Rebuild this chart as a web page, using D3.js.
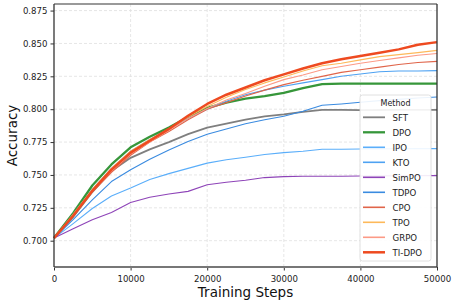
<!DOCTYPE html>
<html lang="en">
<head>
<meta charset="utf-8">
<title>Accuracy vs Training Steps</title>
<script src="https://cdn.jsdelivr.net/npm/d3@7/dist/d3.min.js"></script>
<style>
  body { margin: 0; background: #fff; }
  text { font-family: "DejaVu Sans", sans-serif; }
</style>
</head>
<body>
<div id="chart"></div>
<script>
const w = 457, h = 302;
const margin = {top: 4, right: 20, bottom: 35, left: 54};

// data
const steps = [0, 2500, 5000, 7500, 10000, 12500, 15000, 17500, 20000, 22500, 25000,
  27500, 30000, 32500, 35000, 37500, 40000, 42500, 45000, 47500, 50000];
const methods = ["SFT", "DPO", "IPO", "KTO", "SimPO", "TDPO", "CPO", "TPO", "GRPO", "TI-DPO"];
const sft   = [0.702, 0.718, 0.737, 0.753, 0.763, 0.7695, 0.775, 0.781, 0.786, 0.789, 0.792,
  0.7945, 0.796, 0.798, 0.7995, 0.7995, 0.7993, 0.7994, 0.7995, 0.7995, 0.7995];
const dpo   = [0.702, 0.721, 0.742, 0.758, 0.771, 0.779, 0.786, 0.794, 0.801, 0.805, 0.808,
  0.810, 0.8125, 0.816, 0.819, 0.8195, 0.8195, 0.8195, 0.8195, 0.8195, 0.8195];
const ipo   = [0.702, 0.713, 0.7245, 0.734, 0.740, 0.7465, 0.751, 0.755, 0.759, 0.7615, 0.7635,
  0.7655, 0.767, 0.768, 0.7695, 0.7695, 0.7697, 0.7698, 0.7699, 0.770, 0.770];
const kto   = [0.702, 0.720, 0.739, 0.755, 0.768, 0.777, 0.785, 0.793, 0.800, 0.806, 0.811,
  0.8145, 0.8175, 0.820, 0.8225, 0.825, 0.8268, 0.8285, 0.829, 0.829, 0.8293];
const simpo = [0.702, 0.709, 0.716, 0.7215, 0.729, 0.733, 0.7355, 0.7375, 0.7425, 0.7445, 0.746,
  0.748, 0.7487, 0.749, 0.749, 0.749, 0.7492, 0.7493, 0.7494, 0.7495, 0.7495];
const tdpo  = [0.702, 0.716, 0.731, 0.745, 0.754, 0.762, 0.769, 0.7755, 0.781, 0.785, 0.789,
  0.792, 0.7947, 0.7985, 0.803, 0.804, 0.8053, 0.8065, 0.8075, 0.8085, 0.8093];
const cpo   = [0.702, 0.719, 0.737, 0.752, 0.765, 0.775, 0.783, 0.792, 0.800, 0.805, 0.810,
  0.8145, 0.8187, 0.822, 0.825, 0.828, 0.830, 0.832, 0.834, 0.8355, 0.8364];
const tpo   = [0.702, 0.720, 0.739, 0.755, 0.768, 0.777, 0.785, 0.794, 0.802, 0.809, 0.815,
  0.820, 0.8245, 0.829, 0.833, 0.835, 0.8375, 0.840, 0.8415, 0.843, 0.8447];
const grpo  = [0.702, 0.719, 0.738, 0.753, 0.766, 0.775, 0.784, 0.793, 0.8005, 0.807, 0.812,
  0.8175, 0.8225, 0.826, 0.830, 0.8325, 0.835, 0.837, 0.839, 0.841, 0.8424];
const tidpo = [0.702, 0.719, 0.738, 0.754, 0.767, 0.776, 0.785, 0.795, 0.804, 0.811, 0.8165,
  0.822, 0.8265, 0.831, 0.835, 0.838, 0.8405, 0.843, 0.8455, 0.849, 0.851];
const xTicks = [0, 10000, 20000, 30000, 40000, 50000];
const yTicks = [0.700, 0.725, 0.750, 0.775, 0.800, 0.825, 0.850, 0.875];

const allValues = [sft, dpo, ipo, kto, simpo, tdpo, cpo, tpo, grpo, tidpo];
const colors = ["#7f7f7f", "#36963a", "#5aaefa", "#4ea2f2", "#8e44b8", "#3a8be0",
  "#e0654a", "#fdb95a", "#fc9a86", "#ee4a20"];
const widths = [1.8, 2.3, 1.1, 1.1, 1.1, 1.1, 1.2, 1.1, 1.1, 2.5];

const series = methods.map((m, i) => ({
  name: m, color: colors[i], width: widths[i],
  values: steps.map((s, j) => ({x: s, y: allValues[i][j]}))
}));

const svg = d3.select("#chart").append("svg")
  .attr("width", w).attr("height", h);

const x = d3.scaleLinear().domain([0, 50000]).range([margin.left, w - margin.right]);
const y = d3.scaleLinear().domain([0.68, 0.88]).range([h - margin.bottom, margin.top]);

// grid
svg.append("g").selectAll("line").data(xTicks.slice(1, -1)).enter().append("line")
  .attr("x1", d => x(d)).attr("x2", d => x(d))
  .attr("y1", y(0.68)).attr("y2", y(0.88))
  .attr("stroke", "#e0e0e0").attr("stroke-width", 0.8).attr("stroke-dasharray", "3,2");
svg.append("g").selectAll("line").data(yTicks).enter().append("line")
  .attr("x1", x(0)).attr("x2", x(50000))
  .attr("y1", d => y(d)).attr("y2", d => y(d))
  .attr("stroke", "#e0e0e0").attr("stroke-width", 0.8).attr("stroke-dasharray", "3,2");

// lines
const line = d3.line().x(d => x(d.x)).y(d => y(d.y));
svg.append("g").selectAll("path").data(series).enter().append("path")
  .attr("d", d => line(d.values))
  .attr("fill", "none")
  .attr("stroke", d => d.color)
  .attr("stroke-width", d => d.width)
  .attr("stroke-linejoin", "round");

// axes
const xAxis = svg.append("g")
  .attr("transform", "translate(0," + y(0.68) + ")")
  .call(d3.axisBottom(x).tickValues(xTicks).tickFormat(d3.format("d")).tickSize(3.5));
const yAxis = svg.append("g")
  .attr("transform", "translate(" + x(0) + ",0)")
  .call(d3.axisLeft(y).tickValues(yTicks).tickFormat(d3.format(".3f")).tickSize(3.5));
[xAxis, yAxis].forEach(g => {
  g.selectAll("text").attr("font-size", 8.6).attr("fill", "#222")
    .style("font-family", "DejaVu Sans, sans-serif");
  g.selectAll(".tick line").attr("stroke", "#333");
  g.select(".domain").remove();
});
xAxis.selectAll("text").attr("dy", "1.0em");

// frame
svg.append("line").attr("x1", x(0)).attr("x2", x(50000)).attr("y1", y(0.88)).attr("y2", y(0.88))
  .attr("stroke", "#777").attr("stroke-width", 1.5);
svg.append("line").attr("x1", x(0)).attr("x2", x(50000)).attr("y1", y(0.68)).attr("y2", y(0.68))
  .attr("stroke", "#777").attr("stroke-width", 2);
svg.append("line").attr("x1", x(0)).attr("x2", x(0)).attr("y1", y(0.88)).attr("y2", y(0.68))
  .attr("stroke", "#333").attr("stroke-width", 1.3);
svg.append("line").attr("x1", x(50000)).attr("x2", x(50000)).attr("y1", y(0.88)).attr("y2", y(0.68))
  .attr("stroke", "#333").attr("stroke-width", 1.3);

// axis labels
svg.append("text").attr("x", (x(0) + x(50000)) / 2).attr("y", 296.5)
  .attr("text-anchor", "middle").attr("font-size", 13.5).attr("fill", "#111")
  .text("Training Steps");
svg.append("text")
  .attr("transform", "translate(16.5," + (y(0.68) + y(0.88)) / 2 + ") rotate(-90)")
  .attr("text-anchor", "middle").attr("font-size", 13.5).attr("fill", "#111")
  .text("Accuracy");

// legend
const lg = svg.append("g").attr("transform", "translate(360,95)");
lg.append("rect").attr("width", 71).attr("height", 166).attr("rx", 2.5)
  .attr("fill", "#fff").attr("fill-opacity", 0.9)
  .attr("stroke", "#d8d8d8").attr("stroke-width", 0.8);
lg.append("text").attr("x", 35.5).attr("y", 10.5).attr("text-anchor", "middle")
  .attr("font-size", 8).attr("fill", "#222").text("Method");
const items = lg.selectAll(".item").data(series).enter().append("g")
  .attr("transform", (d, i) => "translate(0," + (22.3 + i * 15) + ")");
items.append("line").attr("x1", 3).attr("x2", 25)
  .attr("stroke", d => d.color).attr("stroke-width", d => Math.max(d.width, 1.6));
items.append("text").attr("x", 32.5).attr("y", 3.2)
  .attr("font-size", 8.6).attr("fill", "#222").text(d => d.name);
</script>
</body>
</html>
